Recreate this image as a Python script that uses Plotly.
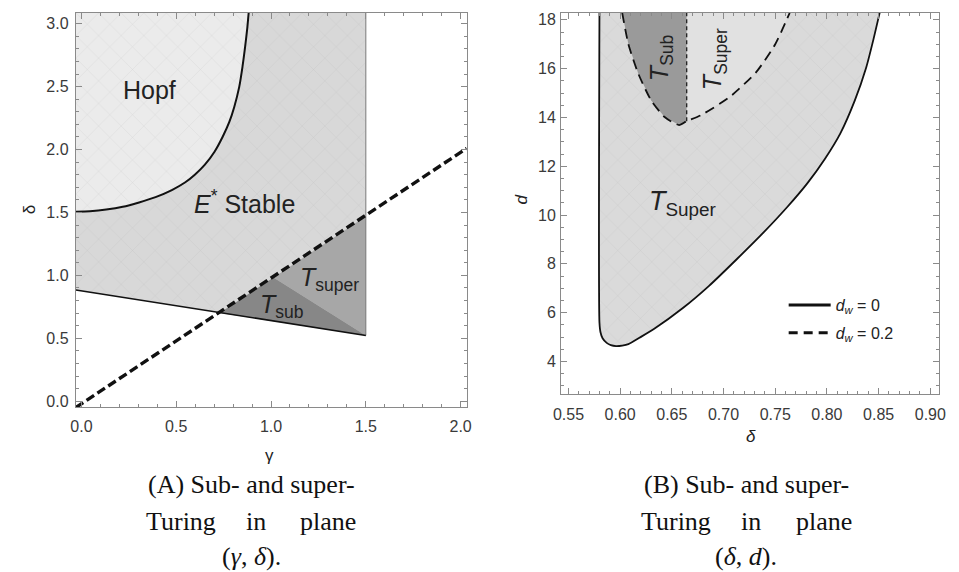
import plotly.graph_objects as go

W, H = 959, 572

# ---------------- Panel A data (gamma, delta) ----------------
gamma_range = [-0.029, 2.032]
delta_range = [-0.047, 3.086]
gamma_hopf = [-0.029, 0.045, 0.131, 0.218, 0.304, 0.391, 0.477, 0.546, 0.598, 0.650,
              0.702, 0.745, 0.780, 0.806, 0.832, 0.849, 0.863, 0.875, 0.882]
delta_hopf = [1.506, 1.510, 1.523, 1.545, 1.580, 1.622, 1.678, 1.738, 1.800, 1.878,
              1.983, 2.102, 2.220, 2.339, 2.496, 2.654, 2.812, 2.970, 3.086]
gamma_lower = [-0.029, 1.5]
delta_lower = [0.884, 0.523]
gamma_edge = [1.5, 1.5]
delta_edge = [3.086, 0.523]
gamma_dash = [-0.03, 2.032]
delta_dash = [-0.05, 2.01]
gamma_tsub = [0.729, 1.013, 1.5]
delta_tsub = [0.702, 0.983, 0.523]
gamma_tsuper = [1.013, 1.5, 1.5]
delta_tsuper = [0.983, 1.47, 0.523]

# ---------------- Panel B data (delta, d) ----------------
delta_b_range = [0.543, 0.9086]
d_range = [2.657, 18.285]
delta_solid = [0.580, 0.580, 0.581, 0.583, 0.587, 0.591, 0.596, 0.602, 0.608, 0.619, 0.633,
               0.661, 0.686, 0.713, 0.739, 0.761, 0.781, 0.798, 0.813, 0.827, 0.838, 0.845, 0.851]
d_solid = [18.285, 5.6, 5.2, 4.95, 4.76, 4.67, 4.63, 4.65, 4.71, 4.98, 5.34,
           6.2, 7.1, 8.2, 9.3, 10.3, 11.3, 12.3, 13.35, 14.7, 16.05, 17.2, 18.285]
delta_dashed = [0.602, 0.608, 0.6175, 0.630, 0.643, 0.657, 0.6644, 0.678, 0.706, 0.7316, 0.750, 0.764]
d_dashed = [18.285, 17.0, 15.8, 14.7, 14.02, 13.69, 13.85, 14.09, 14.84, 15.86, 17.0, 18.285]
split_idx = 6  # vertical divider of sub/super region at delta_dashed[6]

legend_names = ["<i>d</i><sub><i>w</i></sub> = 0", "<i>d</i><sub><i>w</i></sub> = 0.2"]

pat = dict(shape="x", size=16, solidity=0.04, fgcolor="#9a9a9a", fgopacity=0.35, fillmode="overlay")

fig = go.Figure()

def poly(x, y, color, xa="x", ya="y", pattern=None, shape="linear"):
    kw = {}
    if pattern:
        kw["fillpattern"] = pattern
    fig.add_trace(go.Scatter(x=x, y=y, fill="toself", fillcolor=color, mode="lines",
                             line=dict(width=0, color=color, shape=shape, smoothing=0.6),
                             xaxis=xa, yaxis=ya, showlegend=False, hoverinfo="skip", **kw))

def line(x, y, color, width, dash="solid", xa="x", ya="y", shape="linear"):
    fig.add_trace(go.Scatter(x=x, y=y, mode="lines",
                             line=dict(color=color, width=width, dash=dash, shape=shape, smoothing=0.6),
                             xaxis=xa, yaxis=ya, showlegend=False, hoverinfo="skip"))

# Panel A regions
estar_x = gamma_lower + [gamma_edge[0], gamma_range[0]]
estar_y = delta_lower + [delta_edge[0], delta_range[1]]
poly(estar_x, estar_y, "#d8d8d8", pattern=pat)
poly(gamma_hopf + [gamma_range[0]], delta_hopf + [delta_range[1]], "#ebebeb", pattern=pat, shape="spline")
poly(gamma_tsuper, delta_tsuper, "#a7a7a7")
poly(gamma_tsub, delta_tsub, "#878787")
line(gamma_edge, delta_edge, "#7a7a7a", 1)
line(gamma_lower, delta_lower, "#111111", 1.6)
line(gamma_hopf, delta_hopf, "#111111", 2, shape="spline")
line(gamma_dash, delta_dash, "#111111", 3.4, dash="9px,4px")

# Panel B regions
poly(delta_solid, d_solid, "#dadada", "x2", "y2", pattern=pat, shape="spline")
sub_x = delta_dashed[:split_idx + 1] + [delta_dashed[split_idx]]
sub_y = d_dashed[:split_idx + 1] + [d_range[1]]
poly(sub_x, sub_y, "#9a9a9a", "x2", "y2", pattern=pat)
sup_x = [delta_dashed[split_idx]] + delta_dashed[split_idx:]
sup_y = [d_range[1]] + d_dashed[split_idx:]
poly(sup_x, sup_y, "#e1e1e1", "x2", "y2")
line([delta_dashed[split_idx]] * 2, [d_dashed[split_idx], d_range[1]], "#111111", 1.2,
     dash="4px,3px", xa="x2", ya="y2")
line(delta_solid, d_solid, "#111111", 1.8, xa="x2", ya="y2", shape="spline")
line(delta_dashed, d_dashed, "#111111", 1.8, dash="10px,6px", xa="x2", ya="y2", shape="spline")

# legend entries (thicker sample lines, as in the reference key)
for nm, ds, grp in zip(legend_names, ["solid", "9px,6px"], ["a", "b"]):
    fig.add_trace(go.Scatter(x=[None], y=[None], mode="lines", name=nm, legendgroup=grp,
                             line=dict(color="#111111", width=3, dash=ds),
                             xaxis="x2", yaxis="y2", showlegend=True, hoverinfo="skip"))

tickfont = dict(family="Liberation Sans, Arial", size=16, color="#3a3a3a")
frame = "#8a8a8a"

def axis(domain, rng, dtick, tick0, minor_dtick, fmt, anchor, standoff):
    return dict(domain=domain, range=rng, anchor=anchor, showgrid=False, zeroline=False,
                showline=True, linecolor=frame, linewidth=1.3, mirror="ticks",
                ticks="inside", ticklen=6, tickwidth=1, tickcolor=frame,
                dtick=dtick, tick0=tick0, tickformat=fmt, tickfont=tickfont,
                ticklabelstandoff=standoff,
                minor=dict(ticks="inside", dtick=minor_dtick, ticklen=3, tickcolor=frame, tickwidth=1),
                fixedrange=True)

px2x = lambda p: p / W
px2y = lambda p: 1 - p / H

layout = dict(
    width=W, height=H, margin=dict(l=0, r=0, t=0, b=0),
    paper_bgcolor="white", plot_bgcolor="white",
    xaxis=axis([px2x(69), px2x(466)], gamma_range, 0.5, 0, 0.1, ".1f", "y", 5),
    yaxis=axis([px2y(409), px2y(12)], delta_range, 0.5, 0, 0.1, ".1f", "x", 3),
    xaxis2=axis([px2x(562), px2x(946)], delta_b_range, 0.05, 0.55, 0.01, ".2f", "y2", 5),
    yaxis2=axis([px2y(396), px2y(12)], d_range, 2, 0, 0.5, "d", "x2", 1),
    showlegend=True,
    legend=dict(x=px2x(788), y=px2y(289), xanchor="left", yanchor="top", itemwidth=42,
                tracegroupgap=4, bgcolor="rgba(0,0,0,0)",
                font=dict(family="Liberation Sans, Arial", size=16, color="#222")),
)
fig.update_layout(**layout)

sans = "Liberation Sans, Arial"
serif = "Liberation Serif, Times New Roman"
ann = []
def A(text, x, y, size, xref="x", yref="y", angle=0, family=sans, color="#222", xanchor="center"):
    ann.append(dict(text=text, x=x, y=y, xref=xref, yref=yref, showarrow=False, textangle=angle,
                    font=dict(family=family, size=size, color=color), xanchor=xanchor, yanchor="middle"))

# in-plot labels (panel A)
A("Hopf", 0.36, 2.47, 25)
A("<i>E</i><sup>*</sup> Stable", 0.86, 1.585, 25)
A("<i>T</i><sub>super</sub>", 1.31, 0.97, 25)
A("<i>T</i><sub>sub</sub>", 1.06, 0.76, 25)
# panel B labels
A("<i>T</i><sub>Super</sub>", 0.660, 10.5, 27, "x2", "y2")
A("<i>T</i><sub>Sub</sub>", 0.639, 16.45, 25, "x2", "y2", angle=-90)
A("<i>T</i><sub>Super</sub>", 0.691, 16.4, 25, "x2", "y2", angle=-90)

# axis titles
A("γ", px2x(266), px2y(458), 17, "paper", "paper")
A("δ", px2x(22), px2y(210), 17, "paper", "paper", angle=-90)
A("<i>δ</i>", px2x(755), px2y(439), 17, "paper", "paper")
A("<i>d</i>", px2x(522), px2y(200), 17, "paper", "paper", angle=-90)

# captions
cap_c = "#111"
cs = 26
for cx, left, right, letter, pair in [(247, 138, 356, "A", "(<i>γ</i>, <i>δ</i>)."),
                                      (750, 641, 859, "B", "(<i>δ</i>, <i>d</i>).")]:
    A(f"({letter}) Sub- and super-", px2x(cx), px2y(487), cs, "paper", "paper", family=serif, color=cap_c)
    A("Turing", px2x(left), px2y(524), cs, "paper", "paper", family=serif, color=cap_c, xanchor="left")
    A("in", px2x(cx + 5), px2y(524), cs, "paper", "paper", family=serif, color=cap_c)
    A("plane", px2x(right), px2y(524), cs, "paper", "paper", family=serif, color=cap_c, xanchor="right")
    A(pair, px2x(cx), px2y(559), cs, "paper", "paper", family=serif, color=cap_c)

fig.update_layout(annotations=ann)
fig.write_html("out.html", config={"displayModeBar": False},
               post_script="document.body.style.margin='0px';document.body.style.padding='0px';")
